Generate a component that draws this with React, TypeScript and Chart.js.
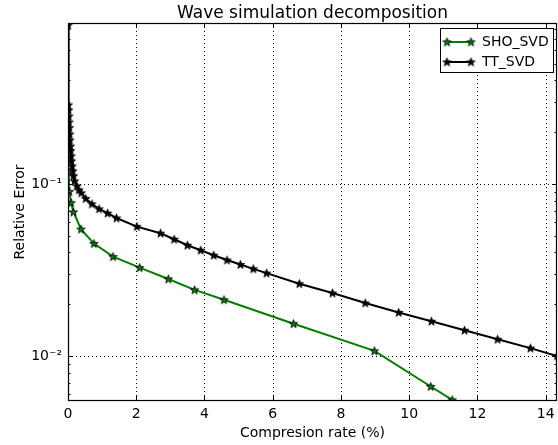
import React, { useEffect, useRef } from "react";
import { Chart, registerables } from "chart.js";

Chart.register(...registerables);

const titleText = "Wave simulation decomposition";
const xTitle = "Compresion rate (%)";
const yTitle = "Relative Error";
const seriesNames = ["SHO_SVD", "TT_SVD"];
const seriesColors = ["#008000", "#000000"];

const xMin = 0;
const xMax = 14.33;
const yMin = 0.00547;
const yMax = 0.863;
const xTickValues = [0, 2, 4, 6, 8, 10, 12, 14];
const yMajorTicks = [0.01, 0.1];
const yMinorTicks = [0.006, 0.007, 0.008, 0.009, 0.02, 0.03, 0.04, 0.05, 0.06, 0.07, 0.08, 0.09, 0.2, 0.3, 0.4, 0.5, 0.6, 0.7, 0.8];

const shoX = [0.02, 0.04, 0.09, 0.16, 0.38, 0.76, 1.32, 2.10, 2.94, 3.71, 4.57, 6.61, 8.98, 10.63, 11.26];
const shoY = [0.118, 0.0902, 0.0778, 0.0687, 0.0546, 0.045, 0.0378, 0.0326, 0.028, 0.0242, 0.0212, 0.0154, 0.0107, 0.00664, 0.00555];

const ttX = [0.005, 0.01, 0.02, 0.025, 0.03, 0.04, 0.05, 0.055, 0.07, 0.08, 0.09, 0.10, 0.12, 0.14, 0.16, 0.19, 0.26, 0.32,
  0.39, 0.52, 0.70, 0.91, 1.16, 1.42, 2.02, 2.71, 3.11, 3.50, 3.89, 4.27, 4.66, 5.05, 5.43, 5.82, 6.78, 7.75, 8.71, 9.69,
  10.65, 11.62, 12.59, 13.55, 14.33];
const ttY = [0.84, 0.288, 0.269, 0.248, 0.229, 0.212, 0.195, 0.18, 0.166, 0.156, 0.1455, 0.136, 0.127, 0.119, 0.1113, 0.104, 0.0974, 0.0923,
  0.0887, 0.0822, 0.0765, 0.0716, 0.0676, 0.0634, 0.0565, 0.0517, 0.0477, 0.044, 0.0412, 0.0385, 0.0361, 0.034, 0.0321, 0.0303, 0.0263, 0.0232, 0.0203, 0.0179,
  0.0159, 0.0141, 0.0125, 0.0111, 0.0100];

const FONT = '"DejaVu Sans", sans-serif';

function starPath(ctx: CanvasRenderingContext2D, cx: number, cy: number, ro: number, ri: number) {
  ctx.beginPath();
  for (let i = 0; i < 10; i++) {
    const r = i % 2 === 0 ? ro : ri;
    const a = -Math.PI / 2 + (i * Math.PI) / 5;
    const px = cx + r * Math.cos(a);
    const py = cy + r * Math.sin(a);
    if (i === 0) ctx.moveTo(px, py);
    else ctx.lineTo(px, py);
  }
  ctx.closePath();
}

function makeStar(color: string): HTMLCanvasElement {
  const c = document.createElement("canvas");
  c.width = 11;
  c.height = 11;
  const ctx = c.getContext("2d")!;
  starPath(ctx, 5.5, 5.8, 4.4, 1.8);
  ctx.fillStyle = color;
  ctx.fill();
  ctx.strokeStyle = "#000";
  ctx.lineWidth = 0.9;
  ctx.stroke();
  return c;
}

const superscripts: Record<string, string> = { "-": "\u207B", "1": "\u00B9", "2": "\u00B2", "3": "\u00B3" };

export default function App() {
  const ref = useRef<HTMLCanvasElement>(null);
  useEffect(() => {
    if (!ref.current) return;
    const stars = seriesColors.map((c) => makeStar(c));
    const series = [
      { x: shoX, y: shoY },
      { x: ttX, y: ttY },
    ];
    const decor = {
      id: "decor",
      beforeDatasetsDraw(chart: any) {
        const { ctx, chartArea: a, scales } = chart;
        const xs = scales.x;
        const ys = scales.y;
        ctx.save();
        ctx.strokeStyle = "#000";
        ctx.lineWidth = 1;
        ctx.setLineDash([1, 3]);
        for (const v of xTickValues) {
          if (v === 0) continue;
          const px = Math.round(xs.getPixelForValue(v)) + 0.5;
          ctx.beginPath();
          ctx.moveTo(px, a.top);
          ctx.lineTo(px, a.bottom);
          ctx.stroke();
        }
        for (const v of yMajorTicks) {
          const py = Math.round(ys.getPixelForValue(v)) + 0.5;
          ctx.beginPath();
          ctx.moveTo(a.left, py);
          ctx.lineTo(a.right, py);
          ctx.stroke();
        }
        ctx.restore();
      },
      afterDatasetsDraw(chart: any) {
        const { ctx, chartArea: a, scales } = chart;
        const xs = scales.x;
        const ys = scales.y;
        ctx.save();
        ctx.strokeStyle = "#000";
        ctx.lineWidth = 1;
        ctx.setLineDash([]);
        for (const v of xTickValues) {
          const px = Math.round(xs.getPixelForValue(v)) + 0.5;
          ctx.beginPath();
          ctx.moveTo(px, a.bottom);
          ctx.lineTo(px, a.bottom - 5);
          ctx.moveTo(px, a.top);
          ctx.lineTo(px, a.top + 5);
          ctx.stroke();
        }
        for (const v of yMajorTicks) {
          const py = Math.round(ys.getPixelForValue(v)) + 0.5;
          ctx.beginPath();
          ctx.moveTo(a.left, py);
          ctx.lineTo(a.left + 5, py);
          ctx.moveTo(a.right, py);
          ctx.lineTo(a.right - 5, py);
          ctx.stroke();
        }
        for (const v of yMinorTicks) {
          const py = Math.round(ys.getPixelForValue(v)) + 0.5;
          ctx.beginPath();
          ctx.moveTo(a.left, py);
          ctx.lineTo(a.left + 2.5, py);
          ctx.moveTo(a.right, py);
          ctx.lineTo(a.right - 2.5, py);
          ctx.stroke();
        }
        ctx.lineWidth = 1.2;
        ctx.strokeRect(Math.round(a.left) + 0.5, Math.round(a.top) + 0.5, Math.round(a.right - a.left) - 1, Math.round(a.bottom - a.top) - 1);
        ctx.fillStyle = "#000";
        ctx.font = `17px ${FONT}`;
        ctx.textAlign = "center";
        ctx.textBaseline = "alphabetic";
        ctx.fillText(titleText, (a.left + a.right) / 2, 17.5);
        const lx = 440.5, ly = 28.5, lw = 113, lh = 44;
        ctx.fillStyle = "#fff";
        ctx.fillRect(lx, ly, lw, lh);
        ctx.lineWidth = 1;
        ctx.strokeRect(lx, ly, lw, lh);
        seriesNames.forEach((name, i) => {
          const y = 42 + i * 20;
          ctx.strokeStyle = seriesColors[i];
          ctx.lineWidth = 2;
          ctx.beginPath();
          ctx.moveTo(447, y);
          ctx.lineTo(471, y);
          ctx.stroke();
          ctx.drawImage(stars[i], 447 - 5.5, y - 5.5);
          ctx.drawImage(stars[i], 471 - 5.5, y - 5.5);
          ctx.fillStyle = "#000";
          ctx.font = `14px ${FONT}`;
          ctx.textAlign = "left";
          ctx.textBaseline = "middle";
          ctx.fillText(name, 482, y + 0.5);
        });
        ctx.restore();
      },
    };
    const chart = new Chart(ref.current, {
      type: "line",
      data: {
        datasets: seriesNames.map((name, i) => ({
          label: name,
          data: series[i].x.map((xv, j) => ({ x: xv, y: series[i].y[j] })),
          borderColor: seriesColors[i],
          backgroundColor: seriesColors[i],
          borderWidth: 2,
          pointStyle: stars[i],
          pointRadius: 5,
          tension: 0,
          fill: false,
        })),
      },
      options: {
        animation: false,
        responsive: false,
        maintainAspectRatio: false,
        layout: { autoPadding: false, padding: { top: 23, right: 1, left: 0, bottom: 0 } },
        plugins: { legend: { display: false }, title: { display: false }, tooltip: { enabled: false } },
        scales: {
          x: {
            type: "linear",
            min: xMin,
            max: xMax,
            grid: { display: false, drawTicks: false },
            border: { display: false },
            ticks: {
              stepSize: 2,
              includeBounds: false,
              padding: 5,
              color: "#000",
              font: { family: FONT, size: 14 },
              maxRotation: 0,
              autoSkip: false,
            },
            title: { display: true, text: xTitle, color: "#000", font: { family: FONT, size: 14 }, padding: { top: 0, bottom: 3 } },
            afterFit: (s: any) => { s.height = 44; s.paddingLeft = 0; s.paddingRight = 0; },
          },
          y: {
            type: "logarithmic",
            min: yMin,
            max: yMax,
            grid: { display: false, drawTicks: false },
            border: { display: false },
            afterBuildTicks: (s: any) => { s.ticks = yMajorTicks.map((v) => ({ value: v })); },
            ticks: {
              padding: 6,
              color: "#000",
              font: { family: FONT, size: 14 },
              autoSkip: false,
              callback: (v: any) => {
                const e = String(Math.round(Math.log10(Number(v))));
                return "10" + e.split("").map((ch) => superscripts[ch] ?? ch).join("");
              },
            },
            title: { display: true, text: yTitle, color: "#000", font: { family: FONT, size: 14 }, padding: { top: 12, bottom: 0 } },
            afterFit: (s: any) => { s.width = 68; s.paddingTop = 0; s.paddingBottom = 0; },
          },
        },
      },
      plugins: [decor],
    });
    return () => chart.destroy();
  }, []);
  return (
    <div style={{ position: "fixed", left: 0, top: 0, width: 558, height: 445, background: "#fff" }}>
      <canvas ref={ref} width={558} height={445} style={{ display: "block" }} />
    </div>
  );
}
